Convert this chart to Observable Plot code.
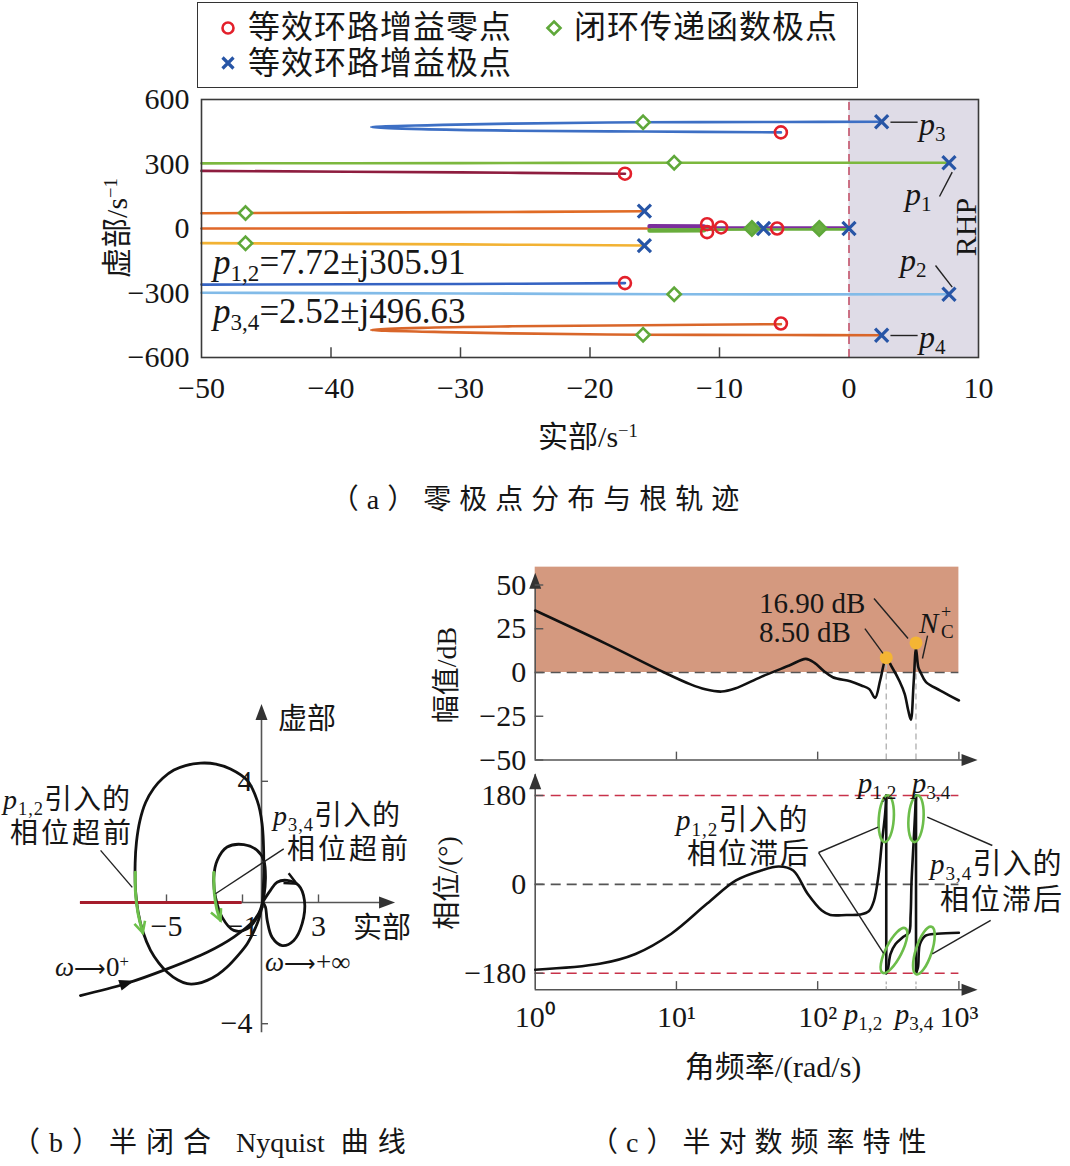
<!DOCTYPE html>
<html><head><meta charset="utf-8">
<script src="https://cdn.jsdelivr.net/npm/d3@7"></script>
<script src="https://cdn.jsdelivr.net/npm/@observablehq/plot@0.6"></script>
<style>
body{margin:0;background:#fff;}
#root{position:relative;width:1070px;height:1166px;overflow:hidden;font-family:"Liberation Serif","Noto Sans CJK SC",serif;color:#161616;}
.abs{position:absolute;}
.t{position:absolute;white-space:nowrap;line-height:1;}
.sb{font-size:.66em;position:relative;top:.3em;font-style:normal;}
.sp{font-size:.62em;position:relative;top:-.55em;font-style:normal;}
.nl{letter-spacing:0;}
</style></head><body><div id="root"></div>
<script>
// ================= DATA: panel (a) root locus =================
const xTicksA = [-50, -40, -30, -20, -10, 0, 10];
const yTicksA = [600, 300, 0, -300, -600];
const innerTicksA = [-40, -30, -20, -10];
const rhpBand = [0, 10];
const locusP3 = [[2.52,496.63],[-5,495.5],[-16,494],[-26,488],[-32,481],[-36.9,472],[-33,462],[-26,455],[-16,451],[-5.26,447]];
const locusP4 = [[2.52,-496.63],[-5,-495.5],[-16,-494],[-26,-488],[-32,-481],[-36.9,-472],[-33,-462],[-26,-455],[-16,-450],[-5.26,-445]];
const locusP1 = [[-50,303],[-30,304],[-13.5,306],[7.72,305.91]];
const locusP2 = [[-50,-299],[-30,-302],[-13.5,-306],[7.72,-305.91]];
const locusZ1 = [[-50,268],[-30,261],[-17.3,255]];
const locusZ2 = [[-50,-261],[-30,-258],[-17.3,-254]];
const locusUpper = [[-50,71],[-30,76],[-15.8,80]];
const locusLower = [[-50,-68],[-30,-74],[-15.8,-79]];
const locusReal = [[-50,0],[-15.4,0]];
const realPurpleThick = [[-15.4,10],[-11.2,9]];
const realGreenThick = [[-15.4,-9],[-11.2,-8]];
const realPurple = [[-11.2,5],[0,4]];
const realGreen = [[-11.2,-5],[0,-4]];
const zerosA = [[-5.26,447],[-17.3,255],[-10.96,20],[-10.96,-17],[-9.88,5],[-5.55,0],[-17.3,-254],[-5.26,-442]];
const polesA = [[2.52,496.63],[7.72,305.91],[-15.8,81],[-6.6,0],[0,0],[-15.8,-80],[7.72,-305.91],[2.52,-496.63]];
const closedPolesOpen = [[-15.9,494],[-13.5,306],[-46.6,72],[-46.6,-69],[-13.5,-306],[-15.9,-494]];
const closedPolesReal = [[-7.5,0],[-2.3,0]];
const leadersA = [
  {x1:3.2,y1:494.4,x2:5.3,y2:494.4},
  {x1:3.2,y1:-497.7,x2:5.3,y2:-497.7},
  {x1:6.99,y1:148.8,x2:7.97,y2:261.9},
  {x1:6.68,y1:-172,x2:7.97,y2:-273}
];

// ================= DATA: panel (b) Nyquist =================
const nyqXTicks = [-5, -1, 3];
const nyqYTicks = [4, -4];
const nyqLow = [[-9.53,-3.07],[-7.16,-2.68],[-4.96,-2.19],[-2.86,-1.64],[-1.46,-1.14],[-0.4,-0.59],[0.04,-0.15]];
const nyqBig = [[0.04,-0.1],[0.12,1.06],[0.03,2.6],[-0.23,3.37],[-0.75,4.03],[-1.63,4.41],[-2.4,4.57],[-3.21,4.6],[-4.0,4.52],[-4.61,4.37],[-5.2,4.1],[-5.67,3.77],[-6.1,3.3],[-6.4,2.7],[-6.58,2.0],[-6.65,1.3],[-6.63,0.4],[-6.5,-0.3],[-6.25,-0.95],[-5.84,-1.58],[-5.4,-2.0],[-4.96,-2.3],[-4.4,-2.56],[-3.91,-2.68],[-3.35,-2.67],[-2.86,-2.57],[-2.3,-2.38],[-1.81,-2.13],[-1.2,-1.72],[-0.75,-1.36],[-0.35,-0.88],[-0.14,-0.55],[0.04,-0.1]];
const nyqSmall = [[0.04,-0.04],[0.12,0.17],[0.21,0.83],[0.12,1.39],[-0.23,1.72],[-0.93,1.91],[-1.81,1.83],[-2.33,1.39],[-2.51,0.83],[-2.42,0.17],[-2.07,-0.49],[-1.46,-0.92],[-0.75,-0.87],[-0.23,-0.49],[0.04,-0.04]];
const nyqRight = [[0.05,0],[0.47,0.4],[0.82,0.67],[1.35,0.73],[1.96,0.56],[2.26,0.07],[2.14,-0.7],[1.7,-1.25],[1.09,-1.42],[0.56,-1.15],[0.3,-0.59],[0.21,-0.15],[0.08,0]];
const nyqRedSegment = [-9.53, -1.02];
const greenLead1 = [[-6.64,1.0],[-6.63,0.3],[-6.5,-0.35],[-6.25,-1.0]];
const greenLead2 = [[-2.51,1.0],[-2.48,0.3],[-2.36,-0.2],[-2.16,-0.59]];
const leadersB = [
  {x1:-8.47,y1:1.72,x2:-6.8,y2:0.5},
  {x1:1.17,y1:1.77,x2:-2.42,y2:0.29}
];

// ================= DATA: panel (c) Bode =================
const freqTicks = [1, 10, 100, 1000];
const freqTickLabels = ["10⁰", "10¹", "10²", "10³"];
const magTicks = [50, 25, 0, -25, -50];
const phaseTicks = [180, 0, -180];
const unstableBand = [0, 60.2];
const pFreqs = [305.91, 496.63];
const magCurve = [[1,35.4],[3.16,16.5],[8.2,0],[12.6,-6.8],[16,-9.6],[20.9,-10.9],[26,-9.2],[39.8,-2.5],[63,4],[82.4,7.8],[95,5.5],[110,1],[128,-2.7],[170,-5],[204,-7.4],[232,-9.5],[255,-14.5],[278,-4],[306,8],[336,3],[380,-5],[413,-12.2],[438,-21.7],[457,-27],[478,-6],[497,13.5],[516,3],[536,0],[585,-5.5],[739,-10.3],[1000,-16]];
const magPeaks = [[305.91,8.5],[496.63,16.9]];
const phaseSeg1 = [[1,-173],[2.86,-161],[5.13,-141],[9.2,-100],[16.5,-39],[26.4,8],[39.7,28],[53.2,36],[67.1,28],[84.9,-19],[107,-53],[123,-62],[160,-62],[201,-61],[231,-54],[250,-34],[270,20],[284,81],[300,141],[306,180]];
const phaseJump1 = [[306,180],[306,-180]];
const phaseSeg2 = [[306,-180],[314,-172],[328,-141],[356,-121],[397,-108],[443,-98],[455,-63],[462,5],[475,72],[489,140],[497,180]];
const phaseJump2 = [[497,180],[497,-180]];
const phaseSeg3 = [[497,-180],[513,-168],[530,-121],[581,-104],[703,-100],[1000,-98]];
const lagTop = [[306,133],[497,133]];
const lagBottom12 = [[347,-134]];
const lagBottom34 = [[565,-134]];
const leadersMag = [
  {x1:250.5,y1:42.3,x2:436.5,y2:19.4},
  {x1:216,y1:25.1,x2:290,y2:10.9},
  {x1:600,y1:21.1,x2:552,y2:8}
];
const leadersPhase = [
  {x1:101.5,y1:64.5,x2:268,y2:115.8},
  {x1:101.5,y1:64.5,x2:293,y2:-140},
  {x1:1725,y1:78.7,x2:597,y2:136},
  {x1:1679,y1:-73,x2:648,y2:-140.7}
];

// ================= helpers =================
const root = document.getElementById("root");
const FONT = '"Liberation Serif","Noto Sans CJK SC",serif';
const fmt = d => String(d).replace("-", "\u2212");
const X = d => d[0], Y = d => d[1];
function place(svg, left, top){ svg.style.position="absolute"; svg.style.left=left+"px"; svg.style.top=top+"px"; root.appendChild(svg); }
function T(html, x, y, o={}){
  const d=document.createElement("div"); d.className="t"; d.innerHTML=html;
  d.style.fontSize=(o.size||28)+"px"; d.style.left=x+"px"; d.style.top=y+"px";
  if(o.ls) d.style.letterSpacing=o.ls+"px";
  if(o.color) d.style.color=o.color;
  const ax=o.anchor==="start"?"0%":o.anchor==="end"?"-100%":"-50%";
  d.style.transform=`translate(${ax},-50%)`+(o.rot?` rotate(${o.rot}deg)`:"");
  root.appendChild(d);
}
function arrowHead(deg, len=14, half=5.5, open=false){
  const a=deg*Math.PI/180,c=Math.cos(a),s=Math.sin(a);
  const R=(x,y)=>[x*c-y*s,x*s+y*c];
  const p0=R(0,0),p1=R(-len,-half),p2=R(-len,half);
  return {draw(ctx){ if(open){ctx.moveTo(...p1);ctx.lineTo(...p0);ctx.lineTo(...p2);} else {ctx.moveTo(...p0);ctx.lineTo(...p1);ctx.lineTo(...p2);ctx.closePath();} }};
}
function ellipseSym(rx, ry, deg){
  const a=deg*Math.PI/180,c=Math.cos(a),s=Math.sin(a),k=0.5523;
  const R=(x,y)=>[x*c-y*s,x*s+y*c];
  const P=[[0,-ry],[k*rx,-ry],[rx,-k*ry],[rx,0],[rx,k*ry],[k*rx,ry],[0,ry],[-k*rx,ry],[-rx,k*ry],[-rx,0],[-rx,-k*ry],[-k*rx,-ry],[0,-ry]].map(p=>R(...p));
  return {draw(ctx){ ctx.moveTo(...P[0]); for(let i=1;i<P.length;i+=3) ctx.bezierCurveTo(...P[i],...P[i+1],...P[i+2]); ctx.closePath(); }};
}
const baseStyle = {fontFamily: FONT, fontSize: "28px", color: "#161616", background: "transparent", overflow: "visible"};

// ================= panel (a) =================
const lineA = (data, stroke, w=2.6) => Plot.line(data, {x:X, y:Y, stroke, strokeWidth:w, curve:"catmull-rom"});
const plotA = Plot.plot({
  width: 1070, height: 330, style: baseStyle,
  marginLeft: 201, marginRight: 92, marginTop: 9, marginBottom: 63,
  x: {domain: [-50, 10], range: [201, 978], axis: null},
  y: {domain: [-600, 600], range: [267, 9], axis: null},
  marks: [
    Plot.rect([rhpBand], {x1: d=>d[0], x2: d=>d[1], y1: -600, y2: 600, fill: "#dfdce7"}),
    Plot.ruleX([0], {y1:-600, y2:600, stroke: "#c4536a", strokeWidth: 1.6, strokeDasharray: "8,5"}),
    lineA(locusP3, "#3d6fc4"),
    lineA(locusP1, "#7cb83e"),
    lineA(locusZ1, "#8e1d3f"),
    lineA(locusUpper, "#e06b25"),
    lineA(locusReal, "#e0682a"),
    lineA(locusLower, "#f2b233"),
    lineA(locusZ2, "#3563c2"),
    lineA(locusP2, "#82bbe8"),
    lineA(locusP4, "#d9662a"),
    lineA(realPurpleThick, "#7b2e9c", 4.5),
    lineA(realGreenThick, "#69ad3c", 4.5),
    lineA(realPurple, "#7b2e9c", 2.6),
    lineA(realGreen, "#69ad3c", 2.6),
    Plot.dot(zerosA, {x:X, y:Y, r: 6, stroke: "#e3202b", strokeWidth: 2.6, fill: "none"}),
    Plot.dot(closedPolesOpen, {x:X, y:Y, r: 6, symbol: "diamond2", stroke: "#5fa83a", strokeWidth: 2.6, fill: "white"}),
    Plot.dot(closedPolesReal, {x:X, y:Y, r: 6.5, symbol: "diamond2", stroke: "#5fa83a", strokeWidth: 2.6, fill: "#6aae42"}),
    Plot.dot(polesA, {x:X, y:Y, r: 6, symbol: "times", stroke: "#2755a6", strokeWidth: 3.2}),
    Plot.ruleX(innerTicksA, {y1: -600, y2: -555, stroke: "#444", strokeWidth: 1.5}),
    Plot.link(leadersA, {x1:"x1", y1:"y1", x2:"x2", y2:"y2", stroke: "#222", strokeWidth: 1.4}),
    Plot.frame({stroke: "#3a3a3a", strokeWidth: 1.6}),
    Plot.text(xTicksA, {x: d=>d, y: -600, dy: 31, text: fmt, fontSize: 30}),
    Plot.text(yTicksA, {x: -50, y: d=>d, dx: -12, text: fmt, textAnchor: "end", fontSize: 30})
  ]
});
place(plotA, 0, 90);

// legend
const lg=document.createElement("div"); lg.className="abs";
Object.assign(lg.style,{left:"197px",top:"2px",width:"659px",height:"84px",border:"1.6px solid #333"});
root.appendChild(lg);
root.insertAdjacentHTML("beforeend",
 `<svg class="abs" style="left:219px;top:19px" width="18" height="18"><circle cx="9" cy="9" r="5.5" fill="none" stroke="#e3202b" stroke-width="2.6"/></svg>
  <svg class="abs" style="left:545px;top:19px" width="18" height="18"><path d="M9 2.5L15.5 9L9 15.5L2.5 9Z" fill="white" stroke="#5fa83a" stroke-width="2.6"/></svg>
  <svg class="abs" style="left:219px;top:54px" width="18" height="18"><path d="M3.5 3.5L14.5 14.5M14.5 3.5L3.5 14.5" stroke="#2755a6" stroke-width="3.2"/></svg>`);
T("等效环路增益零点", 248, 27, {size:32, anchor:"start", ls:1});
T("闭环传递函数极点", 574, 27, {size:32, anchor:"start", ls:1});
T("等效环路增益极点", 248, 63, {size:32, anchor:"start", ls:1});

T('虚部/s<span class="sp">−1</span>', 117, 228, {size:30, rot:-90});
T('实部/s<span class="sp">−1</span>', 588, 437, {size:30});
T('RHP', 966, 227, {size:30, rot:-90});
T('<i>p</i><span class="sb">3</span>', 919, 124, {size:32, anchor:"start"});
T('<i>p</i><span class="sb">4</span>', 919, 337, {size:32, anchor:"start"});
T('<i>p</i><span class="sb">1</span>', 905, 194, {size:32, anchor:"start"});
T('<i>p</i><span class="sb">2</span>', 900, 260, {size:32, anchor:"start"});
T('<i>p</i><span class="sb">1,2</span>=7.72±j305.91', 213, 262, {size:35, anchor:"start"});
T('<i>p</i><span class="sb">3,4</span>=2.52±j496.63', 213, 311, {size:35, anchor:"start"});
T('（a）零极点分布与根轨迹', 539, 500, {size:28, ls:8});

// ================= panel (b) =================
const nyqLine = (data) => Plot.line(data, {x:X, y:Y, stroke:"#111", strokeWidth:2.8, curve:"catmull-rom"});
const plotB = Plot.plot({
  width: 440, height: 370, style: baseStyle,
  marginLeft: 71, marginRight: 27, marginTop: 15, marginBottom: 19,
  x: {domain: [-10, 8], range: [71, 413], axis: null},
  y: {domain: [-4.6, 6.5], range: [351.4, 15.05], axis: null},
  marks: [
    Plot.ruleY([0], {x1: -9.53, x2: 6.6, stroke: "#555", strokeWidth: 1.6}),
    Plot.ruleX([0], {y1: -4.3, y2: 6.2, stroke: "#555", strokeWidth: 1.6}),
    Plot.dot([[7.03, 0]], {x:X, y:Y, symbol: arrowHead(0, 16, 6), fill: "#333", stroke: "none"}),
    Plot.dot([[0, 6.55]], {x:X, y:Y, symbol: arrowHead(-90, 16, 6), fill: "#333", stroke: "none"}),
    Plot.ruleX(nyqXTicks, {y1: 0, y2: 0.25, stroke: "#555", strokeWidth: 1.4}),
    Plot.ruleY(nyqYTicks, {x1: 0, x2: 0.37, stroke: "#555", strokeWidth: 1.4}),
    Plot.ruleY([0], {x1: nyqRedSegment[0], x2: nyqRedSegment[1], stroke: "#a51d2c", strokeWidth: 3.2}),
    nyqLine(nyqLow), nyqLine(nyqBig), nyqLine(nyqSmall), nyqLine(nyqRight),
    Plot.dot([[-6.7, -2.58]], {x:X, y:Y, symbol: arrowHead(-18, 15, 5.5), fill: "#111", stroke: "none"}),
    Plot.dot([[1.85, 0.62]], {x:X, y:Y, symbol: arrowHead(28, 12, 5.5, true), fill: "none", stroke: "#111", strokeWidth: 2.4}),
    Plot.line(greenLead1, {x:X, y:Y, stroke: "#6cc04a", strokeWidth: 3, curve: "catmull-rom"}),
    Plot.line(greenLead2, {x:X, y:Y, stroke: "#6cc04a", strokeWidth: 3, curve: "catmull-rom"}),
    Plot.dot([greenLead1[greenLead1.length-1]], {x:X, y:Y, symbol: arrowHead(74, 11, 5.5, true), fill: "none", stroke: "#6cc04a", strokeWidth: 2.6}),
    Plot.dot([greenLead2[greenLead2.length-1]], {x:X, y:Y, symbol: arrowHead(66, 11, 5.5, true), fill: "none", stroke: "#6cc04a", strokeWidth: 2.6}),
    Plot.link(leadersB, {x1:"x1", y1:"y1", x2:"x2", y2:"y2", stroke: "#222", strokeWidth: 1.4}),
    Plot.text(nyqXTicks, {x: d=>d, y: 0, dy: 24, text: fmt, fontSize: 30}),
    Plot.text(nyqYTicks, {x: 0, y: d=>d, dx: -9, text: fmt, textAnchor: "end", fontSize: 30})
  ]
});
place(plotB, 0, 690);
T('虚部', 307, 719, {size:29});
T('实部', 382, 928, {size:29});
T('<i>p</i><span class="sb">1,2</span>引入的', 3, 800, {size:28, anchor:"start", ls:1});
T('相位超前', 10, 834, {size:28, anchor:"start", ls:3});
T('<i>p</i><span class="sb">3,4</span>引入的', 273, 816, {size:28, anchor:"start", ls:1});
T('相位超前', 287, 850, {size:28, anchor:"start", ls:3});
T('<i>ω</i><span style="font-size:.8em">⟶</span>0<span class="sp">+</span>', 55, 967, {size:27, anchor:"start"});
T('<i>ω</i><span style="font-size:.8em">⟶</span>+∞', 265, 962, {size:27, anchor:"start"});
T('（b）半闭合 <span class="nl">Nyquist</span> 曲线', 12, 1143, {size:28, anchor:"start", ls:9});

// ================= panel (c) magnitude =================
const plotM = Plot.plot({
  width: 560, height: 220, style: baseStyle,
  marginLeft: 114.7, marginRight: 21.6, marginTop: 6.65, marginBottom: 20.5,
  x: {type: "log", domain: [1, 1000], range: [114.7, 538.4], axis: null},
  y: {domain: [-50, 60.2], range: [199.5, 6.65], axis: null},
  marks: [
    Plot.rect([unstableBand], {x1: 1, x2: 1000, y1: d=>d[0], y2: d=>d[1], fill: "#d4997f"}),
    Plot.ruleY([0], {x1: 1, x2: 1000, stroke: "#555", strokeWidth: 1.6, strokeDasharray: "10,6"}),
    Plot.ruleX(magPeaks, {x: X, y1: -50, y2: Y, stroke: "#b4b4b4", strokeWidth: 1.4, strokeDasharray: "6,4"}),
    Plot.ruleY([-50], {x1: 1, x2: 1300, stroke: "#555", strokeWidth: 1.6}),
    Plot.ruleX([1], {y1: -50, y2: 55, stroke: "#555", strokeWidth: 1.6}),
    Plot.dot([[1356, -50]], {x:X, y:Y, symbol: arrowHead(0, 16, 6), fill: "#333", stroke: "none"}),
    Plot.dot([[1, 57]], {x:X, y:Y, symbol: arrowHead(-90, 16, 6), fill: "#333", stroke: "none"}),
    Plot.ruleY(magTicks, {x1: 1, x2: 1.15, stroke: "#555", strokeWidth: 1.4}),
    Plot.ruleX(freqTicks.slice(1), {y1: -50, y2: -45.5, stroke: "#555", strokeWidth: 1.4}),
    Plot.line(magCurve, {x: X, y: Y, stroke: "#111", strokeWidth: 2.6, curve: "catmull-rom"}),
    Plot.dot(magPeaks, {x: X, y: Y, r: 6.5, fill: "#f4b534", stroke: "none"}),
    Plot.link(leadersMag, {x1:"x1", y1:"y1", x2:"x2", y2:"y2", stroke: "#222", strokeWidth: 1.4}),
    Plot.text(magTicks, {x: 1, y: d=>d, dx: -9, text: fmt, textAnchor: "end", fontSize: 30})
  ]
});
place(plotM, 420, 560);

// ================= panel (c) phase =================
const phLine = (data) => Plot.line(data, {x: X, y: Y, stroke: "#111", strokeWidth: 2.6, curve: "catmull-rom"});
const plotP = Plot.plot({
  width: 560, height: 300, style: baseStyle,
  marginLeft: 114.7, marginRight: 21.6, marginTop: 0.3, marginBottom: 80.7,
  x: {type: "log", domain: [1, 1000], range: [114.7, 538.4], axis: null},
  y: {domain: [-213.6, 230], range: [219.3, 0.3], axis: null},
  marks: [
    Plot.ruleY([180, -180], {x1: 1, x2: 1000, stroke: "#c8324a", strokeWidth: 1.6, strokeDasharray: "10,6"}),
    Plot.ruleY([0], {x1: 1, x2: 1000, stroke: "#555", strokeWidth: 1.6, strokeDasharray: "10,6"}),
    Plot.ruleY([-213.6], {x1: 1, x2: 1300, stroke: "#555", strokeWidth: 1.6}),
    Plot.ruleX([1], {y1: -213.6, y2: 222, stroke: "#555", strokeWidth: 1.6}),
    Plot.dot([[1356, -213.6]], {x:X, y:Y, symbol: arrowHead(0, 16, 6), fill: "#333", stroke: "none"}),
    Plot.dot([[1, 225]], {x:X, y:Y, symbol: arrowHead(-90, 16, 6), fill: "#333", stroke: "none"}),
    Plot.ruleY(phaseTicks, {x1: 1, x2: 1.15, stroke: "#555", strokeWidth: 1.4}),
    Plot.ruleX(freqTicks.slice(1), {y1: -213.6, y2: -197, stroke: "#555", strokeWidth: 1.4}),
    Plot.ruleX(pFreqs, {y1: -213.6, y2: -198, stroke: "#b4b4b4", strokeWidth: 1.4, strokeDasharray: "3,2"}),
    phLine(phaseSeg1), Plot.line(phaseJump1, {x:X, y:Y, stroke:"#111", strokeWidth:2.6}),
    phLine(phaseSeg2), Plot.line(phaseJump2, {x:X, y:Y, stroke:"#111", strokeWidth:2.6}),
    phLine(phaseSeg3),
    Plot.dot(lagTop, {x: X, y: Y, symbol: ellipseSym(7.5, 23.5, 4), fill: "none", stroke: "#6cbd4a", strokeWidth: 2.6}),
    Plot.dot(lagBottom12, {x: X, y: Y, symbol: ellipseSym(8, 25, 27), fill: "none", stroke: "#6cbd4a", strokeWidth: 2.6}),
    Plot.dot(lagBottom34, {x: X, y: Y, symbol: ellipseSym(8, 25, 18), fill: "none", stroke: "#6cbd4a", strokeWidth: 2.6}),
    Plot.link(leadersPhase, {x1:"x1", y1:"y1", x2:"x2", y2:"y2", stroke: "#222", strokeWidth: 1.4}),
    Plot.text(phaseTicks, {x: 1, y: d=>d, dx: -9, text: fmt, textAnchor: "end", fontSize: 30}),
    Plot.text(freqTicks, {x: d=>d, y: -213.6, dy: 28, text: (d,i) => freqTickLabels[i], fontSize: 30})
  ]
});
place(plotP, 420, 770);

T('幅值/dB', 447, 675, {size:28, rot:-90});
T('相位/(°)', 448, 883, {size:28, rot:-90});
T('16.90 dB', 759, 603, {size:29, anchor:"start"});
T('8.50 dB', 759, 632, {size:29, anchor:"start"});
T('<i>N</i>', 919, 623, {size:29, anchor:"start"});
T('+', 941, 612, {size:18, anchor:"start"});
T('C', 941, 631, {size:19, anchor:"start"});
T('<i>p</i><span class="sb">1,2</span>', 877, 783, {size:29});
T('<i>p</i><span class="sb">3,4</span>', 931, 783, {size:29});
T('<i>p</i><span class="sb">1,2</span>', 863, 1014, {size:29});
T('<i>p</i><span class="sb">3,4</span>', 914, 1014, {size:29});
T('<i>p</i><span class="sb">1,2</span>引入的', 676, 820, {size:29, anchor:"start", ls:1});
T('相位滞后', 687, 854, {size:29, anchor:"start", ls:2});
T('<i>p</i><span class="sb">3,4</span>引入的', 930, 864, {size:29, anchor:"start", ls:1});
T('相位滞后', 940, 900, {size:29, anchor:"start", ls:2});
T('角频率/(rad/s)', 773, 1067, {size:30});
T('（c）半对数频率特性', 590, 1143, {size:28, anchor:"start", ls:8});
</script></body></html>
